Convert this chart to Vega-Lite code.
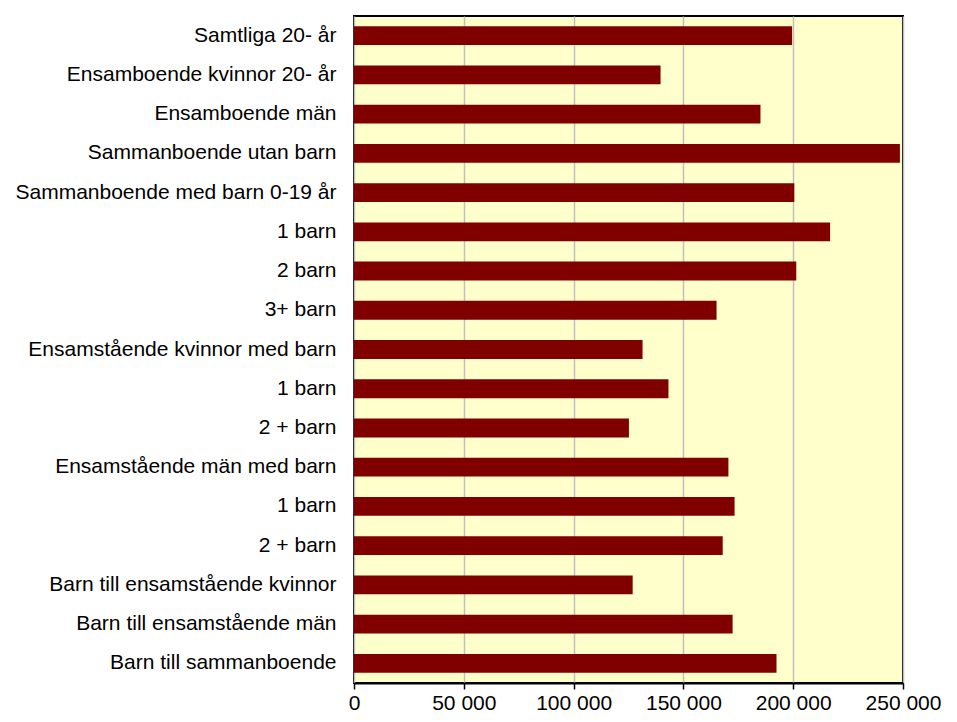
{
  "$schema": "https://vega.github.io/schema/vega-lite/v6.json",
  "width": 549,
  "height": 667,
  "autosize": {"type": "none"},
  "padding": {"left": 354, "top": 16, "right": 54, "bottom": 39},
  "background": "#ffffff",
  "config": {
    "locale": {"number": {"decimal": ",", "thousands": " ", "grouping": [3], "currency": ["", " kr"]}},
    "view": {"fill": "#FFFFCC", "stroke": "#000000", "strokeWidth": 2},
    "font": "Liberation Sans"
  },
  "data": {
    "values": [
      {"key": "01|Samtliga 20- år", "value": 199500},
      {"key": "02|Ensamboende kvinnor 20- år", "value": 139600},
      {"key": "03|Ensamboende män", "value": 185100},
      {"key": "04|Sammanboende utan barn", "value": 248600},
      {"key": "05|Sammanboende med barn 0-19 år", "value": 200500},
      {"key": "06|1 barn", "value": 216800},
      {"key": "07|2 barn", "value": 201400},
      {"key": "08|3+ barn", "value": 165100},
      {"key": "09|Ensamstående kvinnor med barn", "value": 131400},
      {"key": "10|1 barn", "value": 143200},
      {"key": "11|2 + barn", "value": 125200},
      {"key": "12|Ensamstående män med barn", "value": 170500},
      {"key": "13|1 barn", "value": 173300},
      {"key": "14|2 + barn", "value": 167900},
      {"key": "15|Barn till ensamstående kvinnor", "value": 126900},
      {"key": "16|Barn till ensamstående män", "value": 172400},
      {"key": "17|Barn till sammanboende", "value": 192400}
    ]
  },
  "mark": {"type": "bar", "color": "#800000"},
  "encoding": {
    "y": {
      "field": "key",
      "type": "nominal",
      "sort": "ascending",
      "scale": {"paddingInner": 0.52, "paddingOuter": 0.26},
      "axis": {
        "title": null,
        "ticks": false,
        "domain": false,
        "labelPadding": 18,
        "labelFontSize": 21,
        "labelColor": "#000000",
        "labelFont": "Liberation Sans",
        "labelLimit": 400,
        "labelExpr": "split(datum.label, '|')[1]"
      }
    },
    "x": {
      "field": "value",
      "type": "quantitative",
      "scale": {"domain": [0, 250000], "nice": false},
      "axis": {
        "title": null,
        "values": [0, 50000, 100000, 150000, 200000, 250000],
        "format": ",d",
        "grid": true,
        "gridColor": "#C0C0C0",
        "gridWidth": 1.5,
        "domainColor": "#000000",
        "domainWidth": 2,
        "tickColor": "#000000",
        "tickWidth": 1.5,
        "tickSize": 6,
        "labelPadding": 3,
        "labelFontSize": 21,
        "labelColor": "#000000",
        "labelFont": "Liberation Sans",
        "labelOverlap": false,
        "labelFlush": false
      }
    }
  }
}
